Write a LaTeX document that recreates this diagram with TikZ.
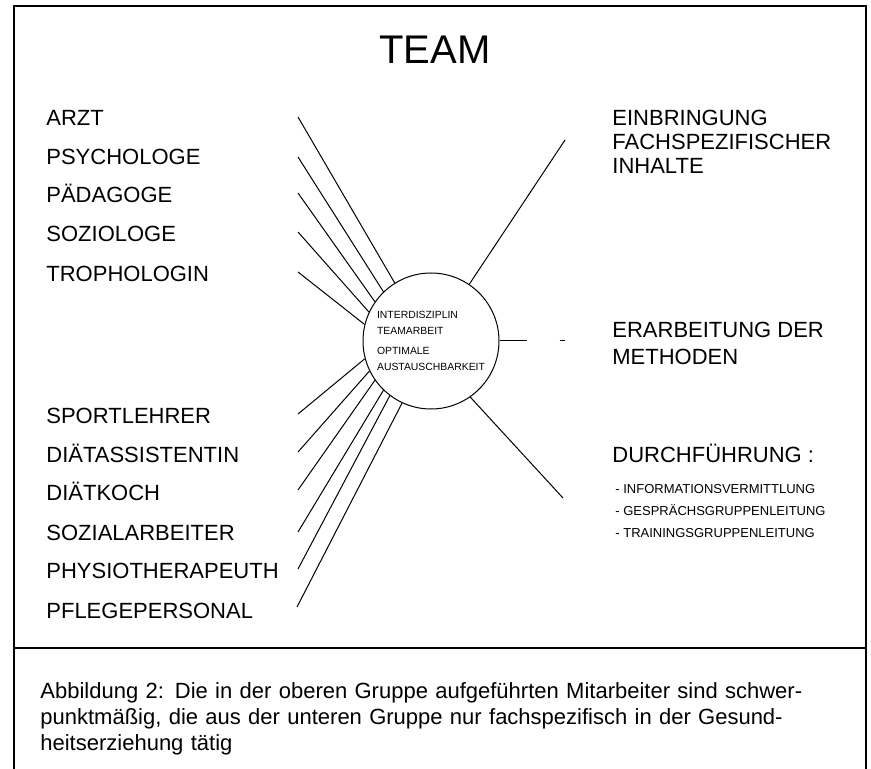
\documentclass[tikz,border=0pt]{standalone}
\usepackage{fontspec}
\setmainfont{Liberation Sans}

\begin{document}
\begin{tikzpicture}[
        x=0.5pt, y=-0.5pt,
        job style/.style={anchor=base west, inner sep=0pt, font=\fontsize{11}{13}\selectfont},
        task style/.style={anchor=north west, inner sep=0pt, align=left},
        hub style/.style={circle, draw, line width=0.5pt, minimum size=68pt, inner sep=0pt, align=left, font=\fontsize{5.2}{7.6}\selectfont},
        link/.style={line width=0.5pt}
    ]
        \useasboundingbox (0,0) rectangle (871,769);

        % frame and caption rule
        \draw[line width=0.8pt] (14,769) -- (14,6) -- (866,6) -- (866,769);
        \draw[line width=0.8pt] (14,648) -- (866,648);

        \node[anchor=base, inner sep=0pt, font=\fontsize{20}{24}\selectfont] (team) at (435,64) {TEAM};

        \node[hub style] (hub) at (431,341) {INTERDISZIPLIN\\TEAMARBEIT\\[2.8pt]OPTIMALE\\AUSTAUSCHBARKEIT};

        % upper group
        \node[job style] (arzt) at (46,126) {ARZT};
        \node[job style] (psych) at (46,165) {PSYCHOLOGE};
        \node[job style] (paed) at (46,203) {PÄDAGOGE};
        \node[job style] (soz) at (46,242) {SOZIOLOGE};
        \node[job style] (troph) at (46,282) {TROPHOLOGIN};

        % lower group
        \node[job style] (sport) at (46,423) {SPORTLEHRER};
        \node[job style] (diaetass) at (46,462) {DIÄTASSISTENTIN};
        \node[job style] (diaetkoch) at (46,500) {DIÄTKOCH};
        \node[job style] (sozarb) at (46,540) {SOZIALARBEITER};
        \node[job style] (physio) at (46,578) {PHYSIOTHERAPEUTH};
        \node[job style] (pflege) at (46,618) {PFLEGEPERSONAL};

        % tasks
        \node[task style, font=\fontsize{11}{12}\selectfont] (inhalte) at (612,110) {EINBRINGUNG\\FACHSPEZIFISCHER\\INHALTE};
        \node[task style, font=\fontsize{11}{13.5}\selectfont] (methoden) at (612,322) {ERARBEITUNG DER\\METHODEN};
        \node[job style] (durchf) at (612,462) {DURCHFÜHRUNG :};
        \node[task style, font=\fontsize{6.5}{11}\selectfont] (liste) at (615,484) {- INFORMATIONSVERMITTLUNG\\- GESPRÄCHSGRUPPENLEITUNG\\- TRAININGSGRUPPENLEITUNG};

        % free ends of the rays
        \coordinate (c-arzt) at (298,117);
        \coordinate (c-psych) at (298,157);
        \coordinate (c-paed) at (298,193);
        \coordinate (c-soz) at (298,232);
        \coordinate (c-troph) at (298,272);
        \coordinate (c-sport) at (298,414);
        \coordinate (c-diaetass) at (298,452);
        \coordinate (c-diaetkoch) at (298,490);
        \coordinate (c-sozarb) at (298,532);
        \coordinate (c-physio) at (298,569);
        \coordinate (c-pflege) at (297,607);
        \coordinate (c-inhalte) at (565,140);
        \coordinate (c-methoden) at (565,341);
        \coordinate (c-durchf) at (563,498);

        \draw[link] (c-arzt) -- (hub.122.5);
        \draw[link] (c-psych) -- (hub.134.4);
        \draw[link] (c-paed) -- (hub.145.6);
        \draw[link] (c-soz) -- (hub.155.3);
        \draw[link] (c-troph) -- (hub.166.8);
        \draw[link] (c-sport) -- (hub.195.6);
        \draw[link] (c-diaetass) -- (hub.206.6);
        \draw[link] (c-diaetkoch) -- (hub.215.7);
        \draw[link] (c-sozarb) -- (hub.226.7);
        \draw[link] (c-physio) -- (hub.233.8);
        \draw[link] (c-pflege) -- (hub.245.6);
        \draw[link] (hub.56) -- (c-inhalte);
        \draw[link, dash pattern=on 13.5pt off 16.5pt on 2.5pt off 10pt] (hub.east) -- (c-methoden);
        \draw[link] (hub.-55.6) -- (c-durchf);

        \node[anchor=north west, inner sep=0pt, text width=394pt, font=\fontsize{11}{13}\selectfont] (caption) at (40,682)
            {\makebox[394pt][s]{Abbildung 2: Die in der oberen Gruppe aufgeführten Mitarbeiter sind schwer-}\\
             \makebox[394pt][s]{punktmäßig, die aus der unteren Gruppe nur fachspezifisch in der Gesund-}\\
             heitserziehung tätig};
    \end{tikzpicture}
\end{document}
